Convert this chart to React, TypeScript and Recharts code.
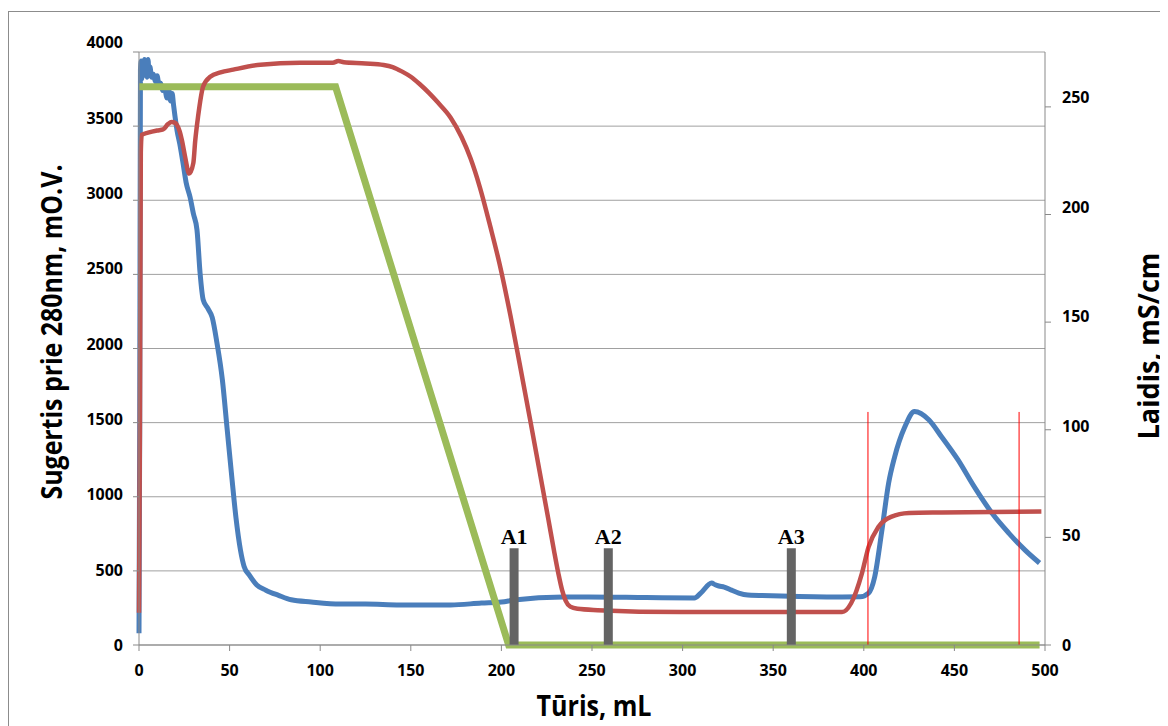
import { ComposedChart, Line, XAxis, YAxis, CartesianGrid, ReferenceLine, Label } from 'recharts';

// absorbance at 280 nm (left axis)
const absVolume = [0, 0.4, 0.8, 1.2, 1.6, 2, 2.5, 3, 3.5, 4, 4.5, 5, 5.5, 6, 7, 8, 9, 10, 11, 12, 13, 14, 15.5, 16.5, 17.5, 18.3, 19, 21, 22.5, 24.3, 26, 28.2, 30, 32, 33.7, 35.4, 38, 40.4, 43, 46, 48.7, 51.4, 53.5, 56, 58, 61, 65, 70, 77, 84, 95, 111, 125, 144, 172, 189, 200, 207, 234, 248, 280, 306.5, 310, 316, 318, 320, 323, 327, 331, 336, 354.5, 388, 398, 402.6, 406, 410, 413.7, 417, 422.6, 428, 436, 443, 452, 461, 470.7, 480, 489, 497];
const absValues = [80, 1500, 3880, 3940, 3820, 3930, 3840, 3950, 3860, 3920, 3830, 3950, 3850, 3900, 3830, 3850, 3800, 3840, 3780, 3790, 3740, 3760, 3690, 3740, 3670, 3720, 3650, 3470, 3380, 3250, 3120, 3020, 2910, 2800, 2510, 2330, 2270, 2210, 2040, 1790, 1450, 1110, 860, 640, 530, 470, 405, 370, 335, 305, 290, 276, 276, 270, 270, 283, 290, 303, 324, 324, 320, 317, 350, 418, 406, 398, 391, 370, 350, 337, 331, 324, 325, 350, 459, 775, 1092, 1268, 1470, 1575, 1518, 1403, 1248, 1066, 890, 755, 640, 553];

// conductivity, mS/cm (right axis)
const condVolume = [0, 0.5, 1, 1.5, 5, 10, 13.3, 16, 18, 20, 21, 22.5, 23.8, 25.4, 27.7, 30, 31, 32.6, 35.4, 39.3, 45, 52, 67, 89, 107, 110, 113, 125, 135, 140, 145, 150, 155, 160, 165, 172, 178, 183, 188, 194, 199, 205, 210, 216, 221, 226, 229, 231.5, 233.5, 235.5, 238, 242, 253, 299, 388, 393, 399, 402.6, 408, 415, 425, 443, 498];
const condValues = [15, 100, 229, 237, 238, 239, 239.5, 242, 243, 242.5, 241.5, 238.5, 234, 227, 219, 224, 234, 245.5, 259.5, 264, 266, 267.3, 269.6, 270.5, 270.5, 271.3, 270.7, 270.2, 269.5, 268.5, 266.5, 264, 260.5, 256.5, 252, 245, 236, 226, 213, 194, 177, 153, 131, 104, 81, 58, 44, 33, 25.5, 20.5, 17.8, 16.8, 16.2, 15.3, 15.3, 19.4, 33.4, 45.5, 54.8, 59.5, 61.3, 61.6, 62];

// gradient (left axis scale)
const gradVolume = [0, 108.5, 204, 497];
const gradValues = [3765, 3765, 0, 0];

const fractionVolumes = [207, 259, 360];
const fractionLabels = ['A1', 'A2', 'A3'];
const fractionTop = 652;

const poolVolumes = [402.3, 485.7];
const poolTop = 1572;

const xTicks = [0, 50, 100, 150, 200, 250, 300, 350, 400, 450, 500];
const leftTicks = [0, 500, 1000, 1500, 2000, 2500, 3000, 3500, 4000];
const rightTicks = [0, 50, 100, 150, 200, 250];

const FONT = "'Open Sans', sans-serif";

const absData = absVolume.map((x, i) => ({ x, y: absValues[i] }));
const condData = condVolume.map((x, i) => ({ x, y: condValues[i] }));
const gradData = gradVolume.map((x, i) => ({ x, y: gradValues[i] }));

const LeftTick = (props: any) => {
  const { x, y, payload } = props;
  return (
    <text x={x} y={y - payload.value * 0.0024} textAnchor="end" dominantBaseline="central"
      fontFamily={FONT} fontSize={16} fontWeight="bold" fill="#000">
      {payload.value}
    </text>
  );
};

const RightTick = (props: any) => {
  const { x, y, payload } = props;
  return (
    <text x={x} y={y - payload.value * 0.04} textAnchor="start" dominantBaseline="central"
      fontFamily={FONT} fontSize={16} fontWeight="bold" fill="#000">
      {payload.value}
    </text>
  );
};

const Title = ({ x, y, angle, len, text }: { x: number; y: number; angle: number; len: number; text: string }) => (
  <text x={x} y={y} transform={angle ? `rotate(${angle} ${x} ${y})` : undefined} textAnchor="middle"
    fontFamily={FONT} fontSize={29} fontWeight="bold" fill="#000" textLength={len} lengthAdjust="spacingAndGlyphs">
    {text}
  </text>
);

const App = () => {
  return (
    <div style={{ marginTop: 3, borderTop: '1px solid #8c8c8c', borderLeft: '1px solid #8c8c8c', width: 1159, height: 714 }}>
      <style>{'body{overflow:hidden}'}</style>
      <ComposedChart width={1159} height={714} margin={{ top: 40, right: 10, bottom: 10, left: 0 }}>
        <CartesianGrid xAxisId="x" yAxisId="left" vertical={false} stroke="#a0a0a0" />
        <XAxis
          xAxisId="x"
          dataKey="x"
          type="number"
          domain={[0, 500]}
          ticks={xTicks}
          height={71}
          tickSize={6}
          tickMargin={14}
          stroke="#898989"
          tick={{ fill: '#000', fontSize: 16, fontWeight: 'bold', fontFamily: FONT }}
        >
          <Label content={() => <Title x={585} y={704} angle={0} len={115} text="Tūris, mL" />} />
        </XAxis>
        <YAxis
          yAxisId="left"
          domain={[0, 4000]}
          ticks={leftTicks}
          width={130}
          tickSize={6}
          tickMargin={10}
          stroke="#898989"
          tick={LeftTick}
        >
          <Label content={() => <Title x={53} y={320} angle={-90} len={335} text="Sugertis prie 280nm, mO.V." />} />
        </YAxis>
        <YAxis
          yAxisId="right"
          orientation="right"
          domain={[0, 275.5]}
          ticks={rightTicks}
          width={113}
          tickSize={6}
          tickMargin={11}
          stroke="#898989"
          tick={RightTick}
        >
          <Label content={() => <Title x={1150} y={334} angle={-90} len={187} text="Laidis, mS/cm" />} />
        </YAxis>
        <Line data={absData} dataKey="y" xAxisId="x" yAxisId="left" type="monotone"
          stroke="#4a7ebb" strokeWidth={5} dot={false} activeDot={false} isAnimationActive={false} />
        <Line data={gradData} dataKey="y" xAxisId="x" yAxisId="left" type="linear"
          stroke="#9bbb59" strokeWidth={7} dot={false} activeDot={false} isAnimationActive={false} />
        <Line data={condData} dataKey="y" xAxisId="x" yAxisId="right" type="monotone"
          stroke="#c0504d" strokeWidth={4.5} dot={false} activeDot={false} isAnimationActive={false} />
        {poolVolumes.map((v) => (
          <ReferenceLine key={`pool-${v}`} xAxisId="x" yAxisId="left"
            segment={[{ x: v, y: 0 }, { x: v, y: poolTop }]} stroke="#ff0000" strokeWidth={1} />
        ))}
        {fractionVolumes.map((v, i) => (
          <ReferenceLine key={`frac-${v}`} xAxisId="x" yAxisId="left"
            segment={[{ x: v, y: 0 }, { x: v, y: fractionTop }]} stroke="#646464" strokeWidth={9}
            label={{ value: fractionLabels[i], position: 'top', offset: 4, fill: '#000', fontSize: 22, fontWeight: 'bold', fontFamily: "'Liberation Serif', serif" }} />
        ))}
      </ComposedChart>
    </div>
  );
};

export default App;
